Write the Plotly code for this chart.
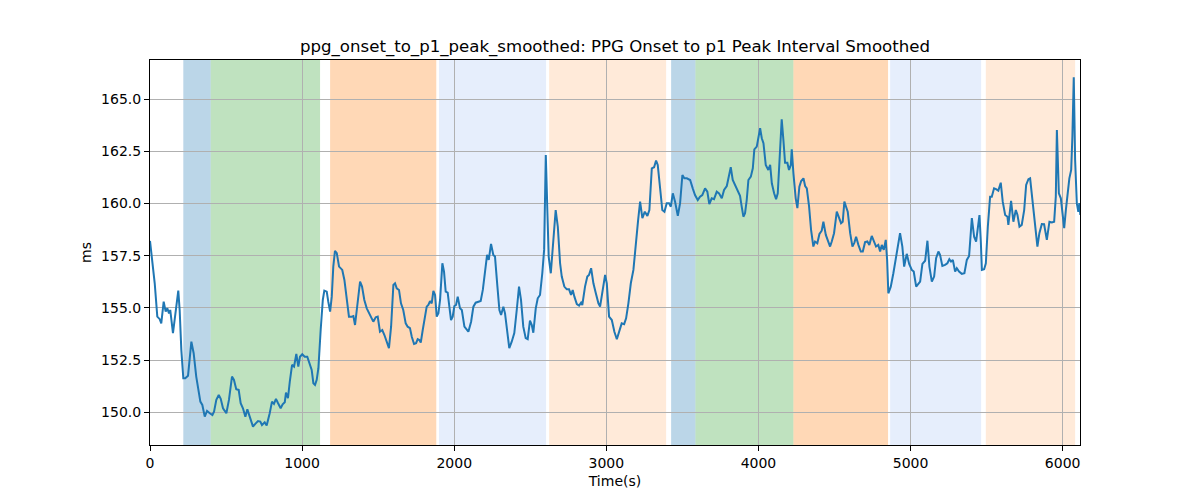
import plotly.graph_objects as go

time_s = [0, 31, 48, 64, 74, 90, 103, 114, 125, 133, 151, 166, 176, 186, 195, 206, 219, 232, 250, 272,
          287, 304, 331, 344, 360, 375, 393, 410, 421, 436, 452, 465, 480, 502, 519, 539, 552, 567, 583, 596,
          611, 627, 640, 656, 677, 692, 710, 725, 736, 754, 767, 787, 802, 815, 828, 842, 859, 872, 886, 894,
          907, 919, 934, 947, 962, 975, 986, 1001, 1017, 1034, 1052, 1063, 1074, 1085, 1096, 1107, 1122, 1136, 1146, 1162,
          1172, 1184, 1195, 1205, 1216, 1228, 1243, 1254, 1264, 1278, 1293, 1308, 1326, 1337, 1348, 1363, 1381, 1394, 1409, 1425,
          1440, 1453, 1468, 1484, 1497, 1512, 1527, 1541, 1556, 1571, 1585, 1600, 1611, 1622, 1637, 1650, 1665, 1681, 1694, 1709,
          1721, 1736, 1749, 1760, 1771, 1780, 1793, 1808, 1819, 1830, 1841, 1852, 1863, 1874, 1885, 1896, 1907, 1922, 1933, 1944,
          1957, 1968, 1979, 1990, 2001, 2012, 2023, 2038, 2050, 2067, 2093, 2111, 2126, 2141, 2159, 2174, 2188, 2203, 2216, 2227,
          2242, 2257, 2268, 2284, 2297, 2308, 2323, 2334, 2349, 2362, 2378, 2395, 2411, 2426, 2439, 2454, 2470, 2483, 2498, 2510,
          2520, 2536, 2549, 2564, 2579, 2591, 2602, 2610, 2621, 2635, 2648, 2667, 2681, 2696, 2707, 2724, 2740, 2755, 2768, 2779,
          2790, 2806, 2821, 2834, 2842, 2860, 2875, 2886, 2900, 2915, 2931, 2948, 2959, 2974, 2992, 3003, 3018, 3036, 3053, 3069,
          3086, 3101, 3117, 3130, 3145, 3161, 3178, 3193, 3209, 3222, 3237, 3253, 3270, 3283, 3299, 3314, 3327, 3338, 3353, 3368,
          3382, 3397, 3412, 3424, 3437, 3452, 3470, 3485, 3500, 3513, 3529, 3551, 3568, 3583, 3601, 3616, 3631, 3649, 3664, 3677,
          3693, 3708, 3726, 3741, 3759, 3774, 3792, 3805, 3818, 3831, 3846, 3862, 3879, 3890, 3901, 3912, 3923, 3934, 3950, 3963,
          3973, 3989, 4000, 4011, 4022, 4033, 4048, 4065, 4077, 4088, 4103, 4116, 4127, 4138, 4153, 4164, 4175, 4190, 4201, 4213,
          4219, 4230, 4245, 4256, 4269, 4281, 4296, 4307, 4318, 4333, 4346, 4361, 4372, 4387, 4401, 4416, 4427, 4443, 4460, 4471,
          4482, 4497, 4515, 4530, 4543, 4554, 4565, 4576, 4587, 4603, 4618, 4631, 4642, 4657, 4673, 4686, 4701, 4716, 4729, 4745,
          4760, 4773, 4788, 4800, 4811, 4824, 4837, 4846, 4854, 4870, 4887, 4905, 4920, 4931, 4946, 4958, 4975, 4991, 5008, 5021,
          5037, 5052, 5063, 5078, 5096, 5111, 5124, 5140, 5155, 5168, 5183, 5194, 5209, 5227, 5242, 5255, 5266, 5278, 5293, 5304,
          5319, 5337, 5354, 5370, 5385, 5403, 5418, 5431, 5442, 5453, 5462, 5469, 5484, 5495, 5508, 5523, 5534, 5549, 5562, 5577,
          5593, 5606, 5622, 5637, 5643, 5661, 5676, 5692, 5703, 5716, 5731, 5747, 5760, 5775, 5786, 5797, 5812, 5826, 5834, 5847,
          5863, 5878, 5896, 5913, 5929, 5944, 5955, 5962, 5975, 5988, 6001, 6010, 6021, 6031, 6044, 6056, 6064, 6073, 6082, 6093,
          6103, 6110, 6116]

interval_ms = [158.21, 156.18, 154.58, 154.46, 154.26, 155.30, 154.82, 154.98, 154.74, 154.90, 153.79, 154.74, 155.06, 155.83, 154.90, 152.99, 151.63, 151.63, 151.75, 153.38,
               152.83, 151.71, 150.51, 150.35, 149.79, 150.06, 149.95, 149.87, 150.03, 150.59, 150.83, 150.64, 150.19, 149.95, 150.59, 151.71, 151.55, 151.10, 151.07, 150.43,
               150.19, 149.79, 150.14, 149.79, 149.31, 149.44, 149.58, 149.55, 149.39, 149.52, 149.36, 149.95, 150.51, 150.40, 150.64, 150.43, 150.19, 150.38, 150.48, 150.94,
               150.67, 151.47, 152.27, 152.19, 152.79, 152.19, 152.66, 152.78, 152.66, 152.66, 152.27, 152.03, 151.39, 151.31, 151.55, 152.11, 153.94, 155.38, 155.83, 155.78,
               155.30, 154.82, 155.54, 156.98, 157.73, 157.62, 156.98, 156.90, 156.82, 156.34, 155.38, 154.58, 154.58, 154.61, 154.18, 155.22, 156.26, 156.02, 155.38, 154.98,
               154.74, 154.58, 154.34, 154.55, 154.58, 153.86, 153.94, 153.70, 153.38, 153.07, 154.10, 156.10, 156.18, 155.94, 155.86, 155.22, 154.90, 154.26, 154.10, 154.03,
               153.62, 153.27, 153.31, 153.50, 153.46, 153.34, 153.94, 154.66, 155.06, 155.14, 155.33, 155.22, 155.81, 155.62, 154.58, 154.74, 155.38, 157.14, 156.74, 155.78,
               155.73, 155.06, 154.42, 154.58, 155.09, 155.14, 155.54, 154.98, 154.90, 154.10, 153.86, 154.34, 155.06, 155.25, 155.30, 155.33, 155.86, 156.66, 157.54, 157.30,
               158.07, 157.54, 157.46, 156.02, 154.90, 154.66, 155.06, 154.74, 153.70, 153.07, 153.38, 153.79, 154.90, 156.02, 155.38, 154.10, 153.55, 153.50, 154.39, 154.18,
               153.81, 154.98, 155.46, 155.62, 156.66, 157.78, 162.33, 160.17, 157.46, 156.66, 158.10, 159.69, 158.89, 157.14, 156.50, 156.02, 155.89, 155.89, 155.62, 155.86,
               155.54, 155.18, 155.11, 155.25, 155.14, 156.02, 156.50, 156.58, 156.90, 156.18, 155.70, 155.22, 155.06, 155.70, 156.58, 156.18, 154.58, 154.42, 153.86, 153.50,
               153.86, 154.26, 154.22, 154.50, 155.22, 156.18, 156.82, 158.10, 159.21, 160.09, 159.30, 159.61, 159.41, 159.69, 161.69, 161.74, 162.06, 161.85, 160.65, 159.69,
               159.61, 160.02, 160.02, 159.85, 160.49, 160.09, 159.41, 160.02, 161.37, 161.21, 161.21, 161.13, 160.73, 160.41, 160.17, 160.33, 160.41, 160.73, 160.57, 159.98,
               160.25, 160.21, 160.57, 160.49, 160.25, 160.65, 160.84, 161.29, 161.74, 161.13, 160.89, 160.57, 160.37, 159.85, 159.37, 159.54, 160.17, 161.13, 161.29, 161.69,
               162.60, 162.73, 163.21, 163.61, 163.13, 162.89, 161.85, 161.61, 161.85, 160.97, 160.49, 160.21, 160.49, 162.09, 164.04, 163.05, 161.96, 161.96, 161.61, 161.85,
               162.60, 161.45, 160.25, 159.78, 160.81, 161.08, 161.21, 160.84, 160.73, 159.85, 158.74, 157.94, 158.18, 158.10, 158.54, 158.70, 159.13, 158.50, 158.10, 157.94,
               158.18, 158.58, 159.61, 159.34, 159.06, 159.13, 160.09, 159.85, 159.61, 158.58, 157.94, 158.13, 158.41, 158.02, 157.70, 157.70, 158.15, 158.18, 158.02, 158.45,
               158.18, 157.94, 158.02, 157.70, 158.02, 157.78, 158.26, 157.30, 155.70, 156.02, 156.66, 157.46, 158.26, 158.58, 157.94, 156.98, 157.59, 157.11, 156.82, 156.74,
               156.02, 156.18, 156.26, 157.11, 157.26, 158.22, 156.98, 156.26, 156.50, 157.38, 157.70, 157.54, 157.01, 157.06, 157.14, 157.33, 157.22, 157.30, 156.74, 156.90,
               156.74, 156.63, 156.66, 157.30, 157.49, 159.30, 158.41, 158.18, 158.89, 159.45, 158.18, 156.82, 156.85, 157.14, 158.89, 160.33, 160.33, 160.73, 160.69, 160.62,
               161.00, 160.09, 159.45, 159.37, 158.98, 160.13, 159.13, 159.69, 159.45, 158.89, 158.98, 159.69, 160.89, 161.17, 161.21, 160.41, 159.21, 158.41, 157.94, 158.58,
               159.02, 159.01, 158.26, 159.13, 159.09, 159.13, 160.33, 163.53, 160.49, 160.25, 159.37, 158.82, 159.69, 160.41, 161.21, 161.61, 163.21, 166.05, 162.09, 160.02,
               159.61, 160.02, 159.45]

band_start = [219, 399, 1184, 1900, 2624, 3426, 3586, 4230, 4866, 5495]
band_end = [399, 1118, 1882, 2604, 3393, 3586, 4230, 4852, 5464, 6082]
band_color = ["rgba(31,119,180,0.3)", "rgba(44,160,44,0.3)", "rgba(255,127,14,0.3)",
              "rgba(100,149,237,0.16)", "rgba(255,160,80,0.22)",
              "rgba(31,119,180,0.3)", "rgba(44,160,44,0.3)", "rgba(255,127,14,0.3)",
              "rgba(100,149,237,0.16)", "rgba(255,160,80,0.22)"]

y_ticks = [150.0, 152.5, 155.0, 157.5, 160.0, 162.5, 165.0]
x_ticks = [0, 1000, 2000, 3000, 4000, 5000, 6000]

fig = go.Figure()
fig.add_trace(go.Scatter(x=time_s, y=interval_ms, mode="lines",
                         line=dict(color="#1f77b4", width=2), showlegend=False))

for s, e, c in zip(band_start, band_end, band_color):
    fig.add_vrect(x0=s, x1=e, fillcolor=c, line_width=0, layer="below")

font = "DejaVu Sans, Liberation Sans, sans-serif"
fig.update_layout(
    width=1200, height=500,
    margin=dict(l=142, r=128, t=52, b=63),
    paper_bgcolor="white", plot_bgcolor="white",
    font=dict(family=font, size=14, color="black"),
    title=dict(text="ppg_onset_to_p1_peak_smoothed: PPG Onset to p1 Peak Interval Smoothed",
               x=607 / 1200, xanchor="center", xref="container",
               y=1 - 38 / 500, yanchor="middle", font=dict(size=16.6, family=font)),
)
fig.update_xaxes(range=[0, 6114], tickvals=x_ticks, ticks="outside", ticklen=5, tickcolor="black",
                 showline=True, mirror=True, linecolor="black", linewidth=1,
                 showgrid=True, gridcolor="#b0b0b0", gridwidth=1, zeroline=False,
                 title=dict(text="Time(s)", standoff=6, font=dict(size=14)))
fig.update_yaxes(range=[148.43, 166.88], tickvals=y_ticks, tickformat=".1f", ticks="outside", ticklen=5,
                 tickcolor="black", showline=True, mirror=True, linecolor="black", linewidth=1,
                 showgrid=True, gridcolor="#b0b0b0", gridwidth=1, zeroline=False,
                 title=dict(text="ms", standoff=6, font=dict(size=14)))

fig.write_html("out.html")
